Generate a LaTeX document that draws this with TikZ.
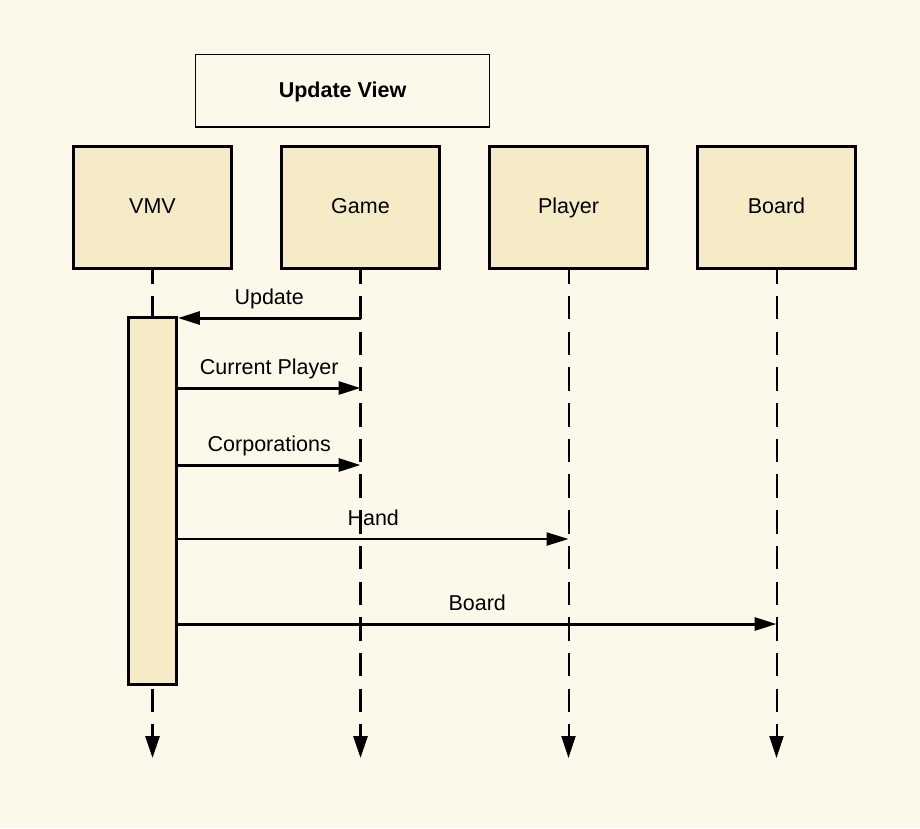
\documentclass[tikz,border=0pt]{standalone}
\usepackage{fontspec}
\setmainfont{Liberation Sans}
\usetikzlibrary{arrows.meta}
\definecolor{bgc}{HTML}{FCF8EA}
\definecolor{boxc}{HTML}{F5EBC6}
\begin{document}
\begin{tikzpicture}[x=1pt,y=-1pt, font=\fontsize{21.5}{25}\selectfont,
  actor/.style={draw, line width=3pt, fill=boxc, minimum width=158.5pt, minimum height=122pt, inner sep=0pt, text height=15.5pt, text depth=3.6pt},
  titlebox/.style={draw, line width=1.2pt, minimum width=294pt, minimum height=72.5pt, inner sep=0pt, text height=15.5pt, text depth=2.8pt},
  life/.style={dash pattern=on 23.5pt off 12.2pt, dash phase=10pt, -{Triangle[length=22pt,width=14pt]}},
  msg/.style={line width=3pt, -{Triangle[length=22pt,width=13pt]}},
  lbl/.style={midway, anchor=base, yshift=14pt}]
\fill[bgc] (0,0) rectangle (920,828);
\node[titlebox] (t) at (342.5,90.8) {\bfseries Update View};
\node[actor] (vmv) at (152.5,207.7) {VMV};
\node[actor] (game) at (360.5,207.7) {Game};
\node[actor] (player) at (568.5,207.7) {Player};
\node[actor] (board) at (776.5,207.7) {Board};
\coordinate (vmvend) at (152.5,758);
\coordinate (gameend) at (360.5,758);
\coordinate (playerend) at (568.5,758);
\coordinate (boardend) at (776.5,758);
\draw[life, line width=3pt] (vmv.south) -- (vmvend);
\draw[life, line width=3pt] (game.south) -- (gameend);
\draw[life, line width=2pt] (player.south) -- (playerend);
\draw[life, line width=2pt] (board.south) -- (boardend);
\node[draw, line width=2.5pt, fill=boxc, minimum width=48pt, minimum height=367pt, inner sep=0pt] (act) at (152.7,501) {};
\draw[msg] (game.south |- 0,318) -- (act.east |- 0,318) node[lbl] {Update};
\draw[msg] (act.east |- 0,388) -- (game.south |- 0,388) node[lbl] {Current Player};
\draw[msg] (act.east |- 0,465) -- (game.south |- 0,465) node[lbl] {Corporations};
\draw[msg, line width=2.2pt] (act.east |- 0,539) -- (player.south |- 0,539) node[lbl] {Hand};
\draw[msg] (act.east |- 0,624) -- (board.south |- 0,624) node[lbl] {Board};
\end{tikzpicture}
\end{document}
